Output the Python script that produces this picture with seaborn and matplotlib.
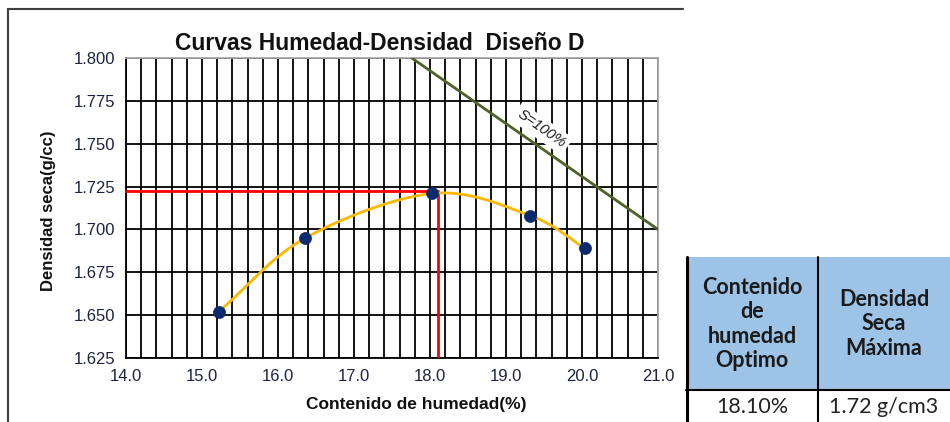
import numpy as np
import matplotlib
matplotlib.use("Agg")
import matplotlib.pyplot as plt
import seaborn as sns
from matplotlib.lines import Line2D
from matplotlib.patches import Rectangle

# data
humedad = [15.22, 16.36, 18.03, 19.32, 20.04]
densidad = [1.652, 1.695, 1.721, 1.708, 1.689]
opt_humedad = 18.1
max_densidad = 1.7225
sat_x = [17.76, 21.0]
sat_y = [1.800, 1.700]
x_ticks = [14.0, 15.0, 16.0, 17.0, 18.0, 19.0, 20.0, 21.0]
y_ticks = [1.625, 1.650, 1.675, 1.700, 1.725, 1.750, 1.775, 1.800]
tabla_header = ["Contenido\nde\nhumedad\nOptimo", "Densidad\nSeca\nMáxima"]
tabla_valores = ["18.10%", "1.72 g/cm3"]


def catmull_rom(xs, ys, n=40):
    # smooth line through the points (like excel "smoothed line")
    p = np.column_stack([xs, ys])
    p = np.vstack([p[0] - (p[1] - p[0]), p, p[-1] + (p[-1] - p[-2])])
    out = []
    for i in range(1, len(p) - 2):
        p0, p1, p2, p3 = p[i - 1], p[i], p[i + 1], p[i + 2]
        for t in np.linspace(0, 1, n, endpoint=False):
            t2, t3 = t * t, t * t * t
            pt = 0.5 * ((2 * p1) + (-p0 + p2) * t + (2 * p0 - 5 * p1 + 4 * p2 - p3) * t2
                        + (-p0 + 3 * p1 - 3 * p2 + p3) * t3)
            out.append(pt)
    out.append(p[-2])
    out = np.array(out)
    return out[:, 0], out[:, 1]


sns.set_style("white")
plt.rcParams['font.family'] = ['Liberation Sans', 'DejaVu Sans']

fig = plt.figure(figsize=(9.5, 4.22), dpi=100)
ax = fig.add_axes([126 / 950, 1 - 358 / 422, 532 / 950, 300 / 422])

# grid
ax.set_xlim(14.0, 21.0)
ax.set_ylim(1.625, 1.800)
ax.set_xticks(x_ticks)
ax.set_xticks(np.arange(14.0, 21.0001, 0.2), minor=True)
ax.set_yticks(y_ticks)
ax.grid(True, which='both', axis='x', color='black', linewidth=1.3)
ax.grid(True, which='major', axis='y', color='black', linewidth=1.3)
ax.set_axisbelow(True)

# S=100% line, label sits above it with a white box hiding the grid
ax.plot(sat_x, sat_y, color='#4F6228', linewidth=2.0, zorder=3)
ax.text(19.47, 1.7586, "S=100%", rotation=-35, ha='center', va='center',
        fontsize=10.5, style='italic', color='#1A1A1A', zorder=2.5,
        bbox=dict(facecolor='white', edgecolor='none', pad=2.5))

# red lines at optimum
ax.plot([14.0, opt_humedad], [max_densidad, max_densidad], color='red', linewidth=2.0, zorder=3, clip_on=False)
ax.plot([opt_humedad, opt_humedad], [1.625, max_densidad], color='red', linewidth=2.0, zorder=3)

# curve and points
cx, cy = catmull_rom(humedad, densidad)
ax.plot(cx, cy, color='#FFB800', linewidth=2.0, zorder=4)
sns.scatterplot(x=humedad, y=densidad, ax=ax, color='#0B2A6E', s=75, edgecolor='#0B2A6E',
                linewidth=0.5, zorder=5)

ax.set_xticklabels([f"{v:.1f}" for v in x_ticks])
ax.set_yticklabels([f"{v:.3f}" for v in y_ticks])
ax.tick_params(axis='both', which='major', direction='out', length=5, width=1.2,
               color='black', labelsize=12, labelcolor='#1C2340', pad=3)
ax.tick_params(axis='x', which='minor', length=0)

for side in ['left', 'bottom']:
    ax.spines[side].set_color('black')
    ax.spines[side].set_linewidth(1.3)
for side in ['top', 'right']:
    ax.spines[side].set_color('#A6A6A6')
    ax.spines[side].set_linewidth(1.3)

ax.set_title("Curvas Humedad-Densidad  Diseño D", fontsize=16.5, fontweight='bold',
             color='#111111', pad=6)
ax.title.set_x((380 - 126) / 532)
ax.set_xlabel("Contenido de humedad(%)", fontsize=12.5, fontweight='bold', color='#111111')
ax.xaxis.set_label_coords((416 - 126) / 532, -(397 - 358) / 300)
ax.set_ylabel("Densidad seca(g/cc)", fontsize=12, fontweight='bold', color='#111111')
ax.yaxis.set_label_coords(-(126 - 56) / 532, 0.49)

# outer chart border (top and left visible)
fig.add_artist(Line2D([8 / 950, 683 / 950], [1 - 9 / 422, 1 - 9 / 422], transform=fig.transFigure,
                      color='#404040', linewidth=1.5))
fig.add_artist(Line2D([8 / 950, 8 / 950], [1 - 9 / 422, 0], transform=fig.transFigure,
                      color='#404040', linewidth=1.5))

# table on the right
tf = fig.transFigure
def fx(px):
    return px / 950
def fy(py):
    return 1 - py / 422

fig.add_artist(Rectangle((fx(686), fy(390)), fx(950) - fx(686), fy(257) - fy(390), transform=tf,
                         facecolor='#9DC3E6', edgecolor='none'))
fig.add_artist(Line2D([fx(687), fx(687)], [fy(257), 0], transform=tf, color='black', linewidth=2.2))
fig.add_artist(Line2D([fx(818), fx(818)], [fy(257), 0], transform=tf, color='black', linewidth=1.5))
fig.add_artist(Line2D([fx(686), 1], [fy(390), fy(390)], transform=tf, color='black', linewidth=1.5))

table_font = ['Lato', 'DejaVu Sans']
fig.text(fx(752), fy(324), tabla_header[0], ha='center', va='center', fontsize=15.5,
         fontweight='bold', color='#1A1A1A', linespacing=1.2, family=table_font)
fig.text(fx(884), fy(324), tabla_header[1], ha='center', va='center', fontsize=15.5,
         fontweight='bold', color='#1A1A1A', linespacing=1.2, family=table_font)
fig.text(fx(752), fy(407), tabla_valores[0], ha='center', va='center', fontsize=15.5,
         color='#222222', family=table_font)
fig.text(fx(884), fy(407), tabla_valores[1], ha='center', va='center', fontsize=15.5,
         color='#222222', family=table_font)

fig.savefig("out.png", dpi=100)
